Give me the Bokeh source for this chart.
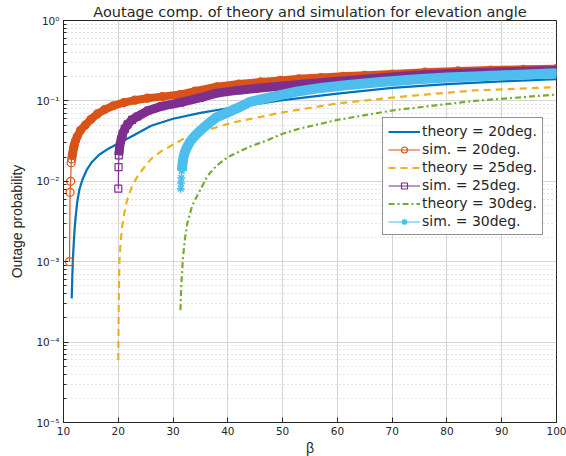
from bokeh.plotting import figure
from bokeh.models import (FixedTicker, CustomJSTickFormatter, Legend, LegendItem)
from bokeh.embed import file_html
from bokeh.resources import INLINE

# ---------------- data ----------------
x_ticks = [10, 20, 30, 40, 50, 60, 70, 80, 90, 100]
y_ticks = [1e-5, 1e-4, 1e-3, 1e-2, 1e-1, 1.0]
y_tick_labels = ["10\u207b\u2075", "10\u207b\u2074", "10\u207b\u00b3", "10\u207b\u00b2", "10\u207b\u00b9", "10\u2070"]

theory20_beta = [11.5, 11.6, 11.7, 11.8, 12.0, 12.2, 12.5, 12.9, 13.5, 14.3, 15.2, 16.5, 18.0, 20.0,
                 23.0, 26.0, 30.0, 35.0, 40.0, 50.0, 60.0, 70.0, 80.0, 90.0, 100.0]
theory20_p = [3.5e-4, 6.3e-4, 1.0e-3, 1.4e-3, 2.4e-3, 3.5e-3, 5.5e-3, 7.9e-3, 1.07e-2, 1.41e-2,
              1.74e-2, 2.14e-2, 2.5e-2, 2.95e-2, 3.8e-2, 4.9e-2, 6.0e-2, 7.1e-2, 8.1e-2, 1.02e-1,
              1.23e-1, 1.45e-1, 1.62e-1, 1.75e-1, 1.86e-1]

sim20_beta = [11.1, 11.2, 11.3, 11.4, 11.5, 11.6, 11.7, 11.8, 11.9, 12.0, 12.2, 12.5, 13.1, 14.0,
              15.0, 16.2, 17.5, 19.1, 21.0, 23.0, 25.3, 28.0, 31.3, 34.0, 38.0, 42.0, 46.0, 49.6,
              53.0, 57.0, 61.0, 65.0, 70.0, 76.0, 82.0, 88.0, 94.0, 100.0]
sim20_p = [1.0e-3, 7.3e-3, 1.0e-2, 1.7e-2, 1.9e-2, 2.1e-2, 2.3e-2, 2.5e-2, 2.7e-2, 2.9e-2, 3.2e-2,
           3.6e-2, 4.3e-2, 5.0e-2, 5.9e-2, 6.9e-2, 7.8e-2, 8.7e-2, 9.5e-2, 1.02e-1, 1.08e-1, 1.13e-1,
           1.20e-1, 1.32e-1, 1.50e-1, 1.62e-1, 1.72e-1, 1.80e-1, 1.88e-1, 1.95e-1, 2.02e-1, 2.08e-1,
           2.16e-1, 2.28e-1, 2.36e-1, 2.42e-1, 2.47e-1, 2.52e-1]

theory25_beta = [20.0, 20.05, 20.1, 20.2, 20.4, 20.7, 21.1, 21.6, 22.4, 23.4, 25.0, 26.0, 28.0,
                 32.0, 36.0, 41.0, 50.0, 60.0, 70.0, 76.0, 85.0, 100.0]
theory25_p = [6e-5, 1.6e-4, 3.5e-4, 1.0e-3, 1.66e-3, 2.7e-3, 4.0e-3, 5.8e-3, 8.3e-3, 1.12e-2,
              1.58e-2, 1.9e-2, 2.4e-2, 3.4e-2, 4.3e-2, 5.4e-2, 7.2e-2, 9.3e-2, 1.1e-1, 1.2e-1,
              1.35e-1, 1.48e-1]

sim25_beta = [20.0, 20.05, 20.1, 20.2, 20.3, 20.5, 20.8, 21.2, 21.7, 22.5, 23.5, 25.5, 28.0, 31.3,
              35.0, 38.0, 42.0, 46.0, 50.0, 54.0, 58.0, 63.0, 68.0, 74.0, 80.0, 86.0, 92.0, 100.0]
sim25_p = [8.1e-3, 1.5e-2, 2.1e-2, 2.5e-2, 2.8e-2, 3.3e-2, 3.9e-2, 4.5e-2, 5.1e-2, 5.8e-2, 6.4e-2,
           7.6e-2, 8.6e-2, 9.5e-2, 1.10e-1, 1.25e-1, 1.36e-1, 1.45e-1, 1.53e-1, 1.62e-1, 1.71e-1,
           1.82e-1, 1.94e-1, 2.08e-1, 2.18e-1, 2.26e-1, 2.32e-1, 2.38e-1]

theory30_beta = [31.35, 31.5, 31.8, 32.2, 32.6, 33.5, 35.0, 36.3, 38.0, 40.0, 44.0, 47.0, 50.0,
                 53.0, 60.0, 70.0, 76.0, 85.0, 100.0]
theory30_p = [2.5e-4, 5.0e-4, 1.1e-3, 2.0e-3, 3.0e-3, 5.0e-3, 7.9e-3, 1.17e-2, 1.58e-2, 2.0e-2,
              2.7e-2, 3.2e-2, 3.9e-2, 4.5e-2, 5.8e-2, 7.6e-2, 8.5e-2, 1.0e-1, 1.2e-1]

sim30_beta = [31.4, 31.45, 31.5, 31.6, 31.75, 31.9, 32.2, 32.6, 33.1, 33.7, 34.5, 35.5, 37.0, 38.0,
              40.0, 42.0, 44.0, 47.0, 50.0, 53.0, 57.0, 62.0, 68.0, 74.0, 80.0, 86.0, 92.0, 100.0]
sim30_p = [8.1e-3, 9.5e-3, 1.1e-2, 1.35e-2, 1.7e-2, 2.0e-2, 2.35e-2, 2.7e-2, 3.1e-2, 3.5e-2, 4.0e-2,
           4.6e-2, 5.6e-2, 6.3e-2, 7.2e-2, 8.3e-2, 9.7e-2, 1.08e-1, 1.2e-1, 1.32e-1, 1.45e-1, 1.58e-1,
           1.72e-1, 1.85e-1, 1.95e-1, 2.03e-1, 2.1e-1, 2.2e-1]

labels = ["theory = 20deg.", "sim. = 20deg.", "theory = 25deg.", "sim. = 25deg.",
          "theory = 30deg.", "sim. = 30deg."]
colors = ["#0072BD", "#D95319", "#EDB120", "#7E2F8E", "#77AC30", "#4DBEEE"]

# ---------------- figure ----------------
p = figure(x_range=(10, 100), y_range=(1e-5, 1.0), y_axis_type="log",
           output_backend="svg", toolbar_location=None,
           min_border_left=63, min_border_right=10, min_border_top=20, min_border_bottom=34)
p.frame_width = 493
p.frame_height = 402
p.background_fill_color = "white"
p.border_fill_color = "white"
p.outline_line_color = "#262626"
p.outline_line_width = 1

p.title.text = "Aoutage comp. of theory and simulation for elevation angle"
p.title.align = "center"
p.title.text_font = "DejaVu Sans"
p.title.text_font_size = "14.5px"
p.title.text_font_style = "normal"
p.title.text_color = "#262626"
p.title.standoff = 1

minor_y = [m * 10.0 ** e for e in range(-5, 0) for m in range(2, 10)]

p.xaxis.ticker = FixedTicker(ticks=x_ticks)
p.yaxis.ticker = FixedTicker(ticks=y_ticks, minor_ticks=minor_y)
p.yaxis.formatter = CustomJSTickFormatter(args=dict(tvals=y_ticks, tlabels=y_tick_labels), code="""
    let best = 0;
    for (let i = 0; i < tvals.length; i++) {
        if (Math.abs(Math.log10(tvals[i]) - Math.log10(tick)) <
            Math.abs(Math.log10(tvals[best]) - Math.log10(tick))) { best = i; }
    }
    return tlabels[best];
""")

for ax in (p.xaxis[0], p.yaxis[0]):
    ax.axis_line_color = "#262626"
    ax.major_tick_line_color = "#262626"
    ax.minor_tick_line_color = "#262626"
    ax.major_tick_in = 5
    ax.major_tick_out = 0
    ax.minor_tick_in = 3
    ax.minor_tick_out = 0
    ax.major_label_text_font = "DejaVu Sans"
    ax.major_label_text_font_size = "10.5px"
    ax.major_label_text_color = "#262626"
    ax.major_label_standoff = 4
    ax.axis_label_text_font = "Liberation Sans"
    ax.axis_label_text_font_style = "normal"
    ax.axis_label_text_color = "#262626"

p.yaxis.axis_label = "Outage probability"
p.yaxis.axis_label_text_font_size = "14px"
p.yaxis.axis_label_standoff = 8
p.xaxis.axis_label = "\u03b2"
p.xaxis.axis_label_text_font_size = "14px"
p.xaxis.axis_label_standoff = 2

p.xgrid.grid_line_color = "#d4d4d4"
p.ygrid.grid_line_color = "#d4d4d4"
p.ygrid.minor_grid_line_color = "#c8c8c8"
p.ygrid.minor_grid_line_dash = "1 3"
p.xgrid.ticker = FixedTicker(ticks=x_ticks)
p.ygrid.ticker = FixedTicker(ticks=y_ticks, minor_ticks=minor_y)

# ---------------- glyphs ----------------
r_t20 = p.line(theory20_beta, theory20_p, line_color=colors[0], line_width=2.2)

r_s20_line = p.line(sim20_beta, sim20_p, line_color=colors[1], line_width=1.2)
p.line(sim20_beta[4:], sim20_p[4:], line_color=colors[1], line_width=8, line_join="round")
r_s20_mk = p.scatter(sim20_beta, sim20_p, marker="circle", size=8, fill_color=None,
                     line_color=colors[1], line_width=1.2)

r_t25 = p.line(theory25_beta, theory25_p, line_color=colors[2], line_width=2.2, line_dash="7 5")

r_s25_line = p.line(sim25_beta, sim25_p, line_color=colors[3], line_width=1.2)
p.line(sim25_beta[2:], sim25_p[2:], line_color=colors[3], line_width=9, line_join="round")
r_s25_mk = p.scatter(sim25_beta, sim25_p, marker="square", size=7, fill_color=None,
                     line_color=colors[3], line_width=1.2)

r_t30 = p.line(theory30_beta, theory30_p, line_color=colors[4], line_width=2.2, line_dash="6 3 2 3")

r_s30_line = p.line(sim30_beta, sim30_p, line_color=colors[5], line_width=1.2)
p.line(sim30_beta[3:], sim30_p[3:], line_color=colors[5], line_width=10, line_join="round")
r_s30_mk = p.scatter(sim30_beta, sim30_p, marker="asterisk", size=8,
                     line_color=colors[5], line_width=1.5)

legend = Legend(items=[
    LegendItem(label=labels[0], renderers=[r_t20]),
    LegendItem(label=labels[1], renderers=[r_s20_line, r_s20_mk]),
    LegendItem(label=labels[2], renderers=[r_t25]),
    LegendItem(label=labels[3], renderers=[r_s25_line, r_s25_mk]),
    LegendItem(label=labels[4], renderers=[r_t30]),
    LegendItem(label=labels[5], renderers=[r_s30_line, r_s30_mk]),
], location=(319, 187))
legend.label_text_font = "DejaVu Sans"
legend.label_text_font_size = "14px"
legend.label_text_color = "#262626"
legend.glyph_width = 32
legend.glyph_height = 15
legend.spacing = 2
legend.padding = 5
legend.margin = 0
legend.label_standoff = 2
legend.label_height = 15
legend.border_line_color = "#262626"
legend.border_line_width = 1
legend.background_fill_color = "white"
legend.background_fill_alpha = 1
p.add_layout(legend, "center")

open("out.html", "w").write(file_html(p, INLINE))
